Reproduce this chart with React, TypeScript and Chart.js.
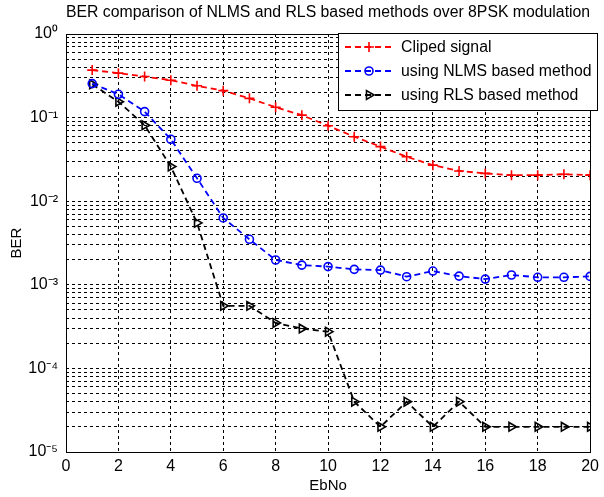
import React, { useEffect, useRef } from 'react';
import { Chart, registerables } from 'chart.js';

Chart.register(...registerables);

const ebno = [1, 2, 3, 4, 5, 6, 7, 8, 9, 10, 11, 12, 13, 14, 15, 16, 17, 18, 19, 20];
const clipped = [0.37, 0.34, 0.31, 0.28, 0.24, 0.21, 0.17, 0.133, 0.107, 0.08, 0.059, 0.045, 0.034, 0.027, 0.023, 0.0215, 0.0205, 0.0205, 0.021, 0.0205];
const nlms = [0.255, 0.19, 0.118, 0.055, 0.0188, 0.0063, 0.0035, 0.00198, 0.00172, 0.00165, 0.00153, 0.0015, 0.00125, 0.00146, 0.00127, 0.00117, 0.00131, 0.00123, 0.00123, 0.00126];
const rls = [0.25, 0.155, 0.081, 0.026, 0.0055, 0.00056, 0.00056, 0.00035, 0.0003, 0.000275, 4e-5, 2e-5, 4e-5, 2e-5, 4e-5, 2e-5, 2e-5, 2e-5, 2e-5, 2e-5];
const seriesLabels = ['Cliped signal', 'using NLMS based method', 'using RLS based method'];
const xTicks = [0, 2, 4, 6, 8, 10, 12, 14, 16, 18, 20];
const yDecadeExponents = [-5, -4, -3, -2, -1, 0];
const yDecadeLabels = ['10\u207B\u2075', '10\u207B\u2074', '10\u207B\u00B3', '10\u207B\u00B2', '10\u207B\u00B9', '10\u2070'];
const titleText = 'BER comparison of NLMS and RLS based methods over 8PSK modulation';
const xTitle = 'EbNo';
const yTitle = 'BER';

const FONT = "'Liberation Sans', Arial, sans-serif";

function drawMarker(ctx: CanvasRenderingContext2D, style: string, x: number, y: number, r: number, color: string) {
  ctx.save();
  ctx.strokeStyle = color;
  ctx.lineWidth = 1.6;
  ctx.setLineDash([]);
  ctx.beginPath();
  if (style === 'cross') {
    ctx.moveTo(x - r, y); ctx.lineTo(x + r, y);
    ctx.moveTo(x, y - r); ctx.lineTo(x, y + r);
  } else if (style === 'circle') {
    ctx.arc(x, y, r, 0, Math.PI * 2);
  } else {
    ctx.moveTo(x + r, y);
    ctx.lineTo(x - r / 2, y - r * 0.866);
    ctx.lineTo(x - r / 2, y + r * 0.866);
    ctx.closePath();
  }
  ctx.stroke();
  ctx.restore();
}

const framePlugin = {
  id: 'frameAndLegend',
  afterDraw(chart: any) {
    const { ctx, chartArea } = chart;
    ctx.save();
    ctx.strokeStyle = '#000';
    ctx.lineWidth = 1;
    ctx.setLineDash([]);
    const l = Math.round(chartArea.left) + 0.5;
    const t = Math.round(chartArea.top) + 0.5;
    const r = Math.round(chartArea.right) + 0.5;
    const b = Math.round(chartArea.bottom) + 0.5;
    ctx.strokeRect(l, t, r - l, b - t);

    // legend box
    const bx = 338.5, by = 33.5, bw = 259, bh = 77;
    ctx.fillStyle = '#fff';
    ctx.fillRect(bx, by, bw, bh);
    ctx.strokeRect(bx, by, bw, bh);
    const rows = [47, 71, 95];
    chart.data.datasets.forEach((ds: any, i: number) => {
      const yy = rows[i];
      ctx.save();
      ctx.strokeStyle = ds.borderColor;
      ctx.lineWidth = ds.borderWidth;
      ctx.setLineDash(ds.borderDash);
      ctx.beginPath();
      ctx.moveTo(345, yy);
      ctx.lineTo(393, yy);
      ctx.stroke();
      ctx.restore();
      drawMarker(ctx, ds.pointStyle, 369, yy, ds.pointRadius, ds.borderColor);
      ctx.fillStyle = '#000';
      ctx.font = `15.8px ${FONT}`;
      ctx.textBaseline = 'middle';
      ctx.textAlign = 'left';
      ctx.fillText(ds.label, 401, yy + 1);
    });
    ctx.restore();
  },
};

export default function App() {
  const ref = useRef<HTMLCanvasElement>(null);
  useEffect(() => {
    if (!ref.current) return;
    const yTickValues: number[] = [];
    yDecadeExponents.forEach((e, i) => {
      const base = Math.pow(10, e);
      if (i === yDecadeExponents.length - 1) {
        yTickValues.push(base);
      } else {
        for (let k = 1; k <= 9; k++) yTickValues.push(parseFloat((k * base).toPrecision(3)));
      }
    });
    const decadeLabel = (v: number) => {
      const e = Math.log10(v);
      const idx = yDecadeExponents.findIndex((d) => Math.abs(d - e) < 1e-6);
      return idx >= 0 ? yDecadeLabels[idx] : '';
    };
    const mk = (vals: number[]) => ebno.map((x, i) => ({ x, y: vals[i] }));
    const chart = new Chart(ref.current, {
      type: 'line',
      data: {
        datasets: [
          {
            label: seriesLabels[0], data: mk(clipped), borderColor: '#ff0000', borderWidth: 1.8,
            borderDash: [6, 4], pointStyle: 'cross', pointRadius: 5, pointBorderWidth: 1.6,
            pointBorderColor: '#ff0000', backgroundColor: 'transparent', fill: false,
          },
          {
            label: seriesLabels[1], data: mk(nlms), borderColor: '#0000ff', borderWidth: 1.8,
            borderDash: [6, 4], pointStyle: 'circle', pointRadius: 4, pointBorderWidth: 1.6,
            pointBorderColor: '#0000ff', pointBackgroundColor: 'transparent', backgroundColor: 'transparent', fill: false,
          },
          {
            label: seriesLabels[2], data: mk(rls), borderColor: '#000000', borderWidth: 1.8,
            borderDash: [6, 4], pointStyle: 'triangle', pointRotation: 90, pointRadius: 5, pointBorderWidth: 1.6,
            pointBorderColor: '#000000', pointBackgroundColor: 'transparent', backgroundColor: 'transparent', fill: false,
          },
        ] as any,
      },
      options: {
        animation: false,
        responsive: false,
        events: [],
        layout: { padding: { left: 0, right: 9, top: 0, bottom: 0 } },
        plugins: {
          legend: { display: false },
          tooltip: { enabled: false },
          title: {
            display: true, text: titleText, color: '#000', fullSize: false,
            font: { family: FONT, size: 16, weight: 'normal' as any, lineHeight: 1.2 },
            padding: { top: 3, bottom: 11.8 },
          },
        },
        scales: {
          x: {
            type: 'linear', min: 0, max: 20,
            afterFit: (s: any) => { s.height = 45; },
            afterBuildTicks: (s: any) => { s.ticks = xTicks.map((v) => ({ value: v })); },
            ticks: { color: '#000', font: { family: FONT, size: 16 }, padding: 5, autoSkip: false, maxRotation: 0 },
            grid: { color: '#000', lineWidth: 1, drawTicks: false },
            border: { display: false, dash: [3, 3] },
            title: { display: true, text: xTitle, color: '#000', font: { family: FONT, size: 15 }, padding: { top: 0, bottom: 2 } },
          },
          y: {
            type: 'logarithmic', min: 1e-5, max: 1,
            afterFit: (s: any) => { s.width = 66; },
            afterBuildTicks: (s: any) => { s.ticks = yTickValues.map((v) => ({ value: v })); },
            ticks: {
              color: '#000', font: { family: FONT, size: 16 }, padding: 8, autoSkip: false,
              callback: (v: any) => decadeLabel(Number(v)),
            },
            grid: { color: '#000', lineWidth: 1, drawTicks: false },
            border: { display: false, dash: [3, 3] },
            title: { display: true, text: yTitle, color: '#000', font: { family: FONT, size: 15 }, padding: { top: 8, bottom: 0 } },
          },
        },
      } as any,
      plugins: [framePlugin],
    });
    return () => chart.destroy();
  }, []);
  return (
    <div style={{ position: 'fixed', left: 0, top: 0, width: 604, height: 497, background: '#fff' }}>
      <canvas ref={ref} width={604} height={497} style={{ display: 'block' }} />
    </div>
  );
}
